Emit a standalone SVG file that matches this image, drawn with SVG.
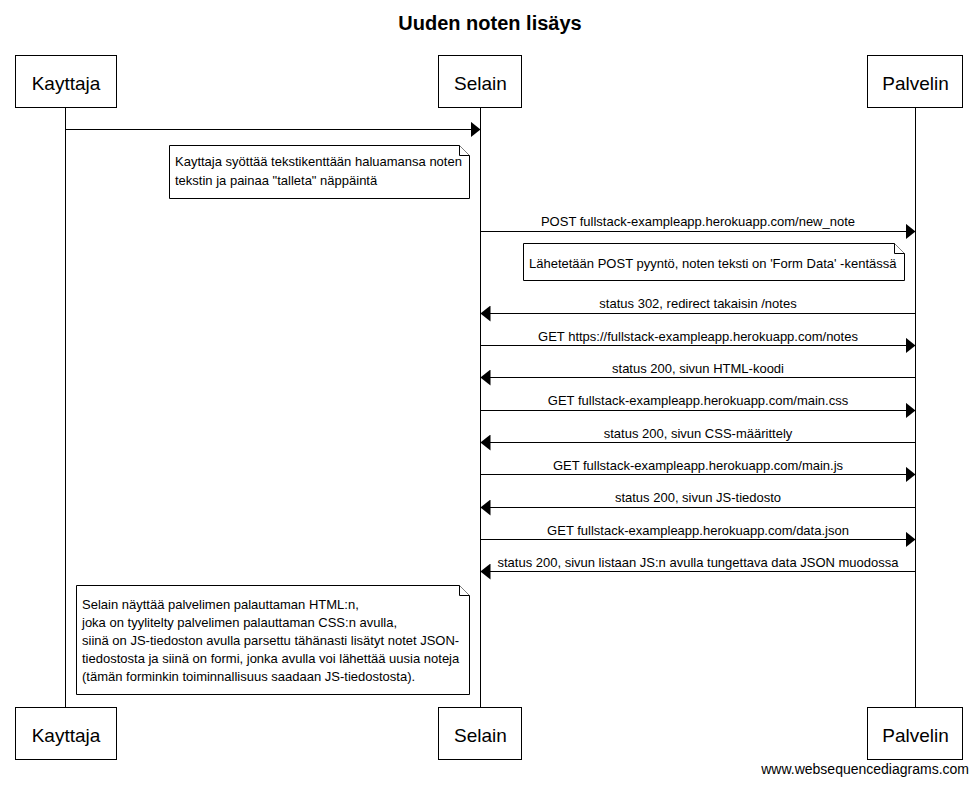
<svg xmlns="http://www.w3.org/2000/svg" width="978" height="785" viewBox="0 0 978 785">
<style>
text{font-family:"Liberation Sans",Arial,sans-serif;fill:#000}
.title{font-size:20px;font-weight:bold}
.actor{font-size:19px}
.lbl{font-size:13px}
.note{font-size:13px}
.wm{font-size:14px}
rect.box{fill:#fff;stroke:#000;stroke-width:1}
.life{stroke:#000;stroke-width:1}
.msg{stroke:#000;stroke-width:1;fill:none}
.notebox{fill:#fff;stroke:#000;stroke-width:1}
</style>
<defs>
<marker id="ah" markerWidth="10" markerHeight="16" refX="10" refY="8" orient="auto" markerUnits="userSpaceOnUse">
<path d="M0,0 L10,8 L0,16 Z" fill="#000"/>
</marker>
</defs>
<rect width="978" height="785" fill="#fff"/>
<text class="title" x="490" y="30" text-anchor="middle">Uuden noten lisäys</text>
<g id="lifelines">
<line class="life" x1="65.5" y1="108" x2="65.5" y2="707"/>
<line class="life" x1="480.5" y1="108" x2="480.5" y2="707"/>
<line class="life" x1="915.5" y1="108" x2="915.5" y2="707"/>
</g>
<g id="Kayttaja">
<rect class="box" x="15.5" y="55.5" width="101" height="52"/>
<text class="actor" x="66" y="89.5" text-anchor="middle">Kayttaja</text>
<rect class="box" x="15.5" y="707.5" width="101" height="52"/>
<text class="actor" x="66" y="742" text-anchor="middle">Kayttaja</text>
</g>
<g id="Selain">
<rect class="box" x="438.5" y="55.5" width="83" height="52"/>
<text class="actor" x="480.5" y="89.5" text-anchor="middle">Selain</text>
<rect class="box" x="438.5" y="707.5" width="83" height="52"/>
<text class="actor" x="480.5" y="742" text-anchor="middle">Selain</text>
</g>
<g id="Palvelin">
<rect class="box" x="867.5" y="55.5" width="95" height="52"/>
<text class="actor" x="915.5" y="89.5" text-anchor="middle">Palvelin</text>
<rect class="box" x="867.5" y="707.5" width="95" height="52"/>
<text class="actor" x="915.5" y="742" text-anchor="middle">Palvelin</text>
</g>
<g id="connectors">
<line class="msg" x1="65.5" y1="129.5" x2="480.5" y2="129.5" marker-end="url(#ah)"/>
<line class="msg" x1="480.5" y1="231.5" x2="915.5" y2="231.5" marker-end="url(#ah)"/>
<text class="lbl" x="698" y="226" text-anchor="middle">POST fullstack-exampleapp.herokuapp.com/new_note</text>
<line class="msg" x1="915.5" y1="313.5" x2="480.5" y2="313.5" marker-end="url(#ah)"/>
<text class="lbl" x="698" y="308" text-anchor="middle">status 302, redirect takaisin /notes</text>
<line class="msg" x1="480.5" y1="345.5" x2="915.5" y2="345.5" marker-end="url(#ah)"/>
<text class="lbl" x="698" y="341" text-anchor="middle">GET https://fullstack-exampleapp.herokuapp.com/notes</text>
<line class="msg" x1="915.5" y1="377.5" x2="480.5" y2="377.5" marker-end="url(#ah)"/>
<text class="lbl" x="698" y="373" text-anchor="middle">status 200, sivun HTML-koodi</text>
<line class="msg" x1="480.5" y1="410.5" x2="915.5" y2="410.5" marker-end="url(#ah)"/>
<text class="lbl" x="698" y="405" text-anchor="middle">GET fullstack-exampleapp.herokuapp.com/main.css</text>
<line class="msg" x1="915.5" y1="442.5" x2="480.5" y2="442.5" marker-end="url(#ah)"/>
<text class="lbl" x="698" y="438" text-anchor="middle">status 200, sivun CSS-määrittely</text>
<line class="msg" x1="480.5" y1="474.5" x2="915.5" y2="474.5" marker-end="url(#ah)"/>
<text class="lbl" x="698" y="470" text-anchor="middle">GET fullstack-exampleapp.herokuapp.com/main.js</text>
<line class="msg" x1="915.5" y1="507.5" x2="480.5" y2="507.5" marker-end="url(#ah)"/>
<text class="lbl" x="698" y="502" text-anchor="middle">status 200, sivun JS-tiedosto</text>
<line class="msg" x1="480.5" y1="539.5" x2="915.5" y2="539.5" marker-end="url(#ah)"/>
<text class="lbl" x="698" y="535" text-anchor="middle">GET fullstack-exampleapp.herokuapp.com/data.json</text>
<line class="msg" x1="915.5" y1="571.5" x2="480.5" y2="571.5" marker-end="url(#ah)"/>
<text class="lbl" x="698" y="567" text-anchor="middle">status 200, sivun listaan JS:n avulla tungettava data JSON muodossa</text>
</g>
<g id="note1">
<path class="notebox" d="M169.5,145.5 H459.5 L469.5,155.5 V198.5 H169.5 Z"/>
<path class="notebox" d="M459.5,145.5 V155.5 H469.5"/>
<text class="note" x="175" y="166">Kayttaja syöttää tekstikenttään haluamansa noten</text>
<text class="note" x="175" y="185">tekstin ja painaa "talleta" näppäintä</text>
</g>
<g id="note2">
<path class="notebox" d="M523.5,243.5 H894.5 L904.5,253.5 V280.5 H523.5 Z"/>
<path class="notebox" d="M894.5,243.5 V253.5 H904.5"/>
<text class="note" x="529" y="268">Lähetetään POST pyyntö, noten teksti on 'Form Data' -kentässä</text>
</g>
<g id="note3">
<path class="notebox" d="M76.5,585.5 H459.5 L469.5,595.5 V694.5 H76.5 Z"/>
<path class="notebox" d="M459.5,585.5 V595.5 H469.5"/>
<text class="note" x="82" y="608.5">Selain näyttää palvelimen palauttaman HTML:n,</text>
<text class="note" x="82" y="626.5">joka on tyylitelty palvelimen palauttaman CSS:n avulla,</text>
<text class="note" x="82" y="644.5">siinä on JS-tiedoston avulla parsettu tähänasti lisätyt notet JSON-</text>
<text class="note" x="82" y="662.5">tiedostosta ja siinä on formi, jonka avulla voi lähettää uusia noteja</text>
<text class="note" x="82" y="680.5">(tämän forminkin toiminnallisuus saadaan JS-tiedostosta).</text>
</g>
<text class="wm" x="969" y="774" text-anchor="end">www.websequencediagrams.com</text>
</svg>
